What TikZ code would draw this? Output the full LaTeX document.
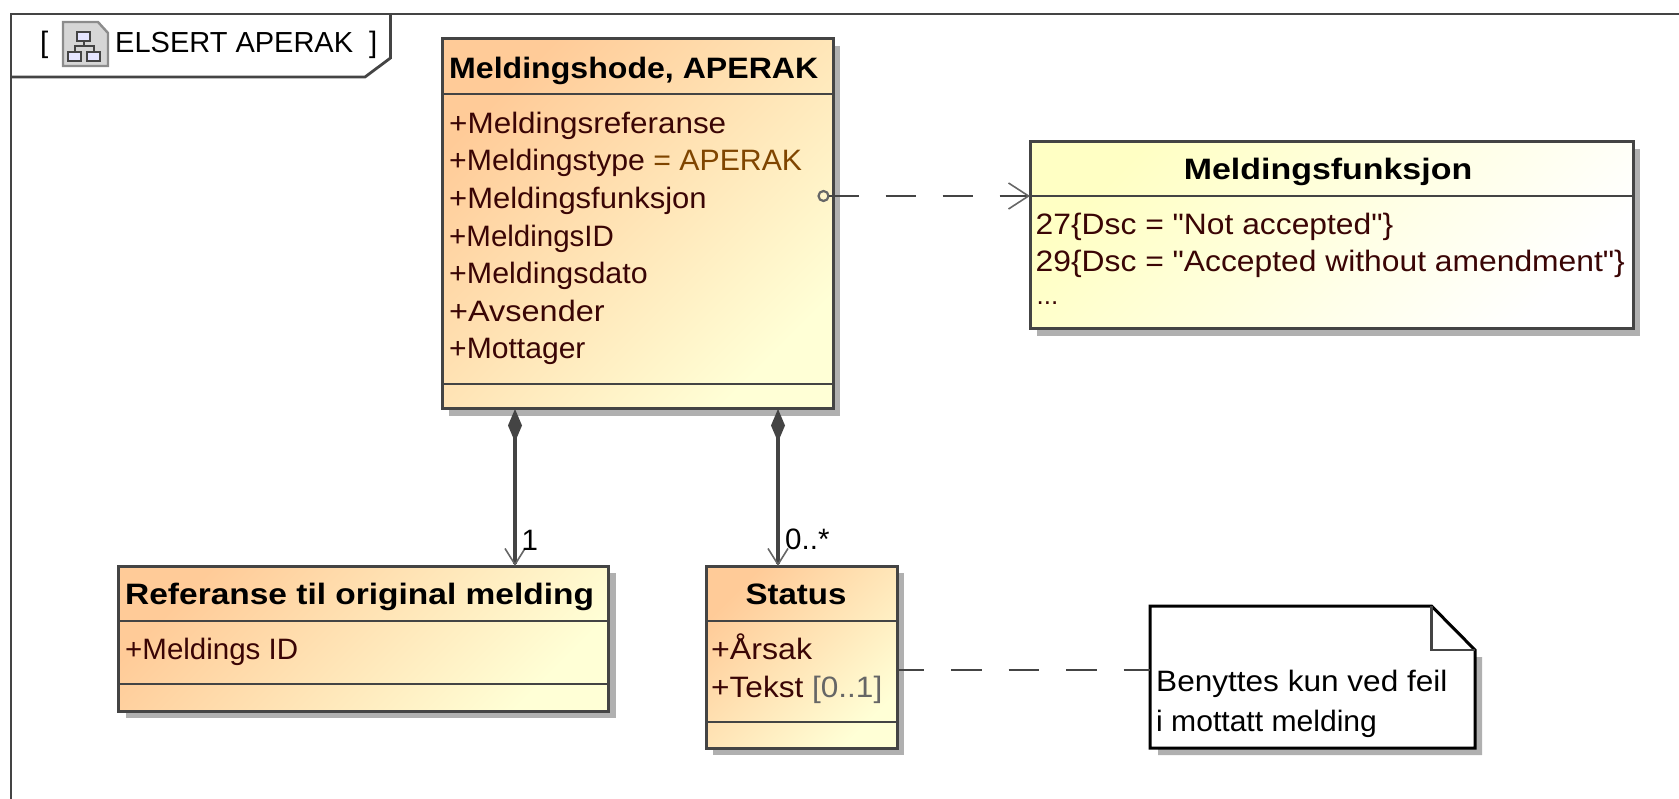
\documentclass[tikz,border=0pt]{standalone}
\usepackage{graphicx}
\usepackage{fontspec}
\setmainfont[Ligatures=NoCommon]{Liberation Sans}
\newfontfamily\plainfam{Liberation Sans}
\usetikzlibrary{arrows.meta,shadows}
\definecolor{ln}{HTML}{444444}
\definecolor{sh}{HTML}{B0B0B0}
\definecolor{attr}{HTML}{3A0505}
\definecolor{valc}{HTML}{7F4500}
\definecolor{mult}{HTML}{666666}
\definecolor{orA}{HTML}{FFCB98}
\definecolor{orB}{HTML}{FFFFD6}
\definecolor{yeA}{HTML}{FFFFC4}
\newcommand{\sx}[2]{\scalebox{#1}[1]{#2}}
\tikzset{
  umlbox/.style={draw=ln,line width=3pt,inner sep=0pt,outer sep=0pt,anchor=north west,
    general shadow={fill=sh,shadow xshift=7pt,shadow yshift=-7pt}},
  orangebox/.style={umlbox,top color=orA,bottom color=orB,shading angle=45},
  yellowbox/.style={umlbox,top color=yeA,bottom color=white,shading angle=45},
  sep/.style={draw=ln,line width=2.6pt},
  txt/.style={font=\plainfam\fontsize{29.5}{32}\selectfont,inner sep=0pt,anchor=base west},
  attrtxt/.style={txt,text=attr},
  titletxt/.style={txt,font=\plainfam\fontsize{29.5}{32}\selectfont\bfseries,text=black},
  assoc/.style={draw=ln,line width=3.2pt,
    {Diamond[length=33pt,width=14pt,fill=ln]}-{Straight Barb[length=16pt,width=20pt,line width=1.6pt,color=mult]}},
  dep/.style={draw=ln,line width=2.4pt,dash pattern=on 30pt off 27pt,
    -{Straight Barb[length=20pt,width=26pt,line width=1.6pt,color=mult]}},
  notelink/.style={draw=ln,line width=2.8pt,dash pattern=on 30.5pt off 27pt,dash phase=3.5pt},
}
\begin{document}
\begin{tikzpicture}[x=1pt,y=-1pt]
\useasboundingbox (0,0) rectangle (1679,799);
% frame
\draw[ln,line width=2.8pt] (11,799) -- (11,14) -- (1679,14);
\draw[ln,line width=2.8pt] (390.5,14) -- (390.5,58) -- (365,77) -- (11,77);
\node[txt] (bl) at (40,53) {[};
\node[txt] (frametitle) at (115,52.5) {\fontsize{29}{32}\selectfont ELSERT APERAK};
\node[txt] (br) at (369,53) {]};
% icon
\draw[draw=gray!90,fill=black!16,line width=2.4pt] (63,22) -- (98,22) -- (108,33) -- (108,66) -- (63,66) -- cycle;
\draw[ln,fill=blue!10,line width=2pt] (77,32) rectangle (90,41);
\draw[ln,fill=blue!10,line width=2pt] (68,52) rectangle (81,61);
\draw[ln,fill=blue!10,line width=2pt] (87,52) rectangle (100,61);
\draw[ln,line width=2pt] (83.5,41) -- (83.5,46) (74.5,52) -- (74.5,46) -- (93.5,46) -- (93.5,52);
% main class
\node[orangebox,minimum width=391pt,minimum height=370pt] (main) at (442,39) {};
\draw[sep] (442,94) -- (833,94);
\draw[sep,line width=2.2pt] (442,384) -- (833,384);
\node[titletxt] (mainT) at (449,79) {\sx{1.088}{Meldingshode, APERAK}};
\node[attrtxt] (a1) at (449,134) {\sx{1.066}{+Meldingsreferanse}};
\node[attrtxt] (a2) at (449,171) {\sx{1.025}{+Meldingstype \textcolor{valc}{= APERAK}}};
\node[attrtxt] (a3) at (449,209) {\sx{1.05}{+Meldingsfunksjon}};
\node[attrtxt] (a4) at (449,246.5) {\sx{1.0}{+MeldingsID}};
\node[attrtxt] (a5) at (449,284) {\sx{1.03}{+Meldingsdato}};
\node[attrtxt] (a6) at (449,321.5) {\sx{1.1}{+Avsender}};
\node[attrtxt] (a7) at (449,359) {\sx{1.02}{+Mottager}};
% enumeration
\node[yellowbox,minimum width=603pt,minimum height=187pt] (mf) at (1030,142) {};
\draw[sep,line width=2.2pt] (1030,196) -- (1633,196);
\node[titletxt,anchor=base] (mfT) at (1328,180) {\sx{1.15}{Meldingsfunksjon}};
\node[attrtxt] (m1) at (1035.5,235) {\sx{1.078}{27\{Dsc = "Not accepted"\}}};
\node[attrtxt] (m2) at (1035.5,272) {\sx{1.078}{29\{Dsc = "Accepted without amendment"\}}};
\node[attrtxt] (m3) at (1036.5,305) {\fontsize{26}{30}\selectfont ...};
% reference class
\node[orangebox,minimum width=490pt,minimum height=145pt] (ref) at (118.5,566) {};
\draw[sep,line width=2.2pt] (118.5,621) -- (608.5,621);
\draw[sep] (118.5,684) -- (608.5,684);
\node[titletxt] (refT) at (125,604) {\sx{1.135}{Referanse til original melding}};
\node[attrtxt] (r1) at (125,659) {+Meldings ID};
% status class
\node[orangebox,minimum width=191pt,minimum height=182pt] (st) at (706,566) {};
\draw[sep,line width=2.2pt] (706,621) -- (897,621);
\draw[sep] (706,722) -- (897,722);
\node[titletxt,anchor=base] (stT) at (796,604) {\sx{1.12}{Status}};
\node[attrtxt] (s1) at (711,659) {\sx{1.09}{+Årsak}};
\node[attrtxt] (s2) at (711,697) {\sx{1.07}{+Tekst \textcolor{mult}{[0..1]}}};
% note
\fill[sh] (1470,657) -- (1482,657) -- (1482,755) -- (1158,755) -- (1158,745) -- (1470,745) -- cycle;
\node[draw=none,minimum width=325pt,minimum height=142pt,inner sep=0pt,outer sep=0pt,anchor=north west] (note) at (1150,606) {};
\draw[black,fill=white,line width=3pt] (note.north west) -- (1431.5,606) -- (1475,650) -- (note.south east) -- (note.south west) -- cycle;
\draw[ln,line width=2.2pt] (1431.5,606) -- (1431.5,650) -- (1475,650);
\node[txt,text=black] (n1) at (1156,691.5) {\sx{1.07}{Benyttes kun ved feil}};
\node[txt,text=black] (n2) at (1156,731) {\sx{1.02}{i mottatt melding}};
% connectors
\coordinate (c1) at (515,500);
\coordinate (c2) at (778,500);
\draw[assoc] (main.south -| c1) -- (ref.north -| c1);
\draw[assoc] (main.south -| c2) -- (st.north -| c2);
\node[txt,text=black] (l1) at (521.5,550) {1};
\node[txt,text=black] (l2) at (785,549) {0..*};
\node[draw=mult,line width=2.2pt,circle,inner sep=0pt,minimum size=10pt,outer sep=0pt] (cp) at (823.5,196) {};
\draw[dep] (cp) -- (mf.west |- cp);
\coordinate (c3) at (1000,670);
\draw[notelink] (st.east |- c3) -- (note.west |- c3);
\end{tikzpicture}
\end{document}
